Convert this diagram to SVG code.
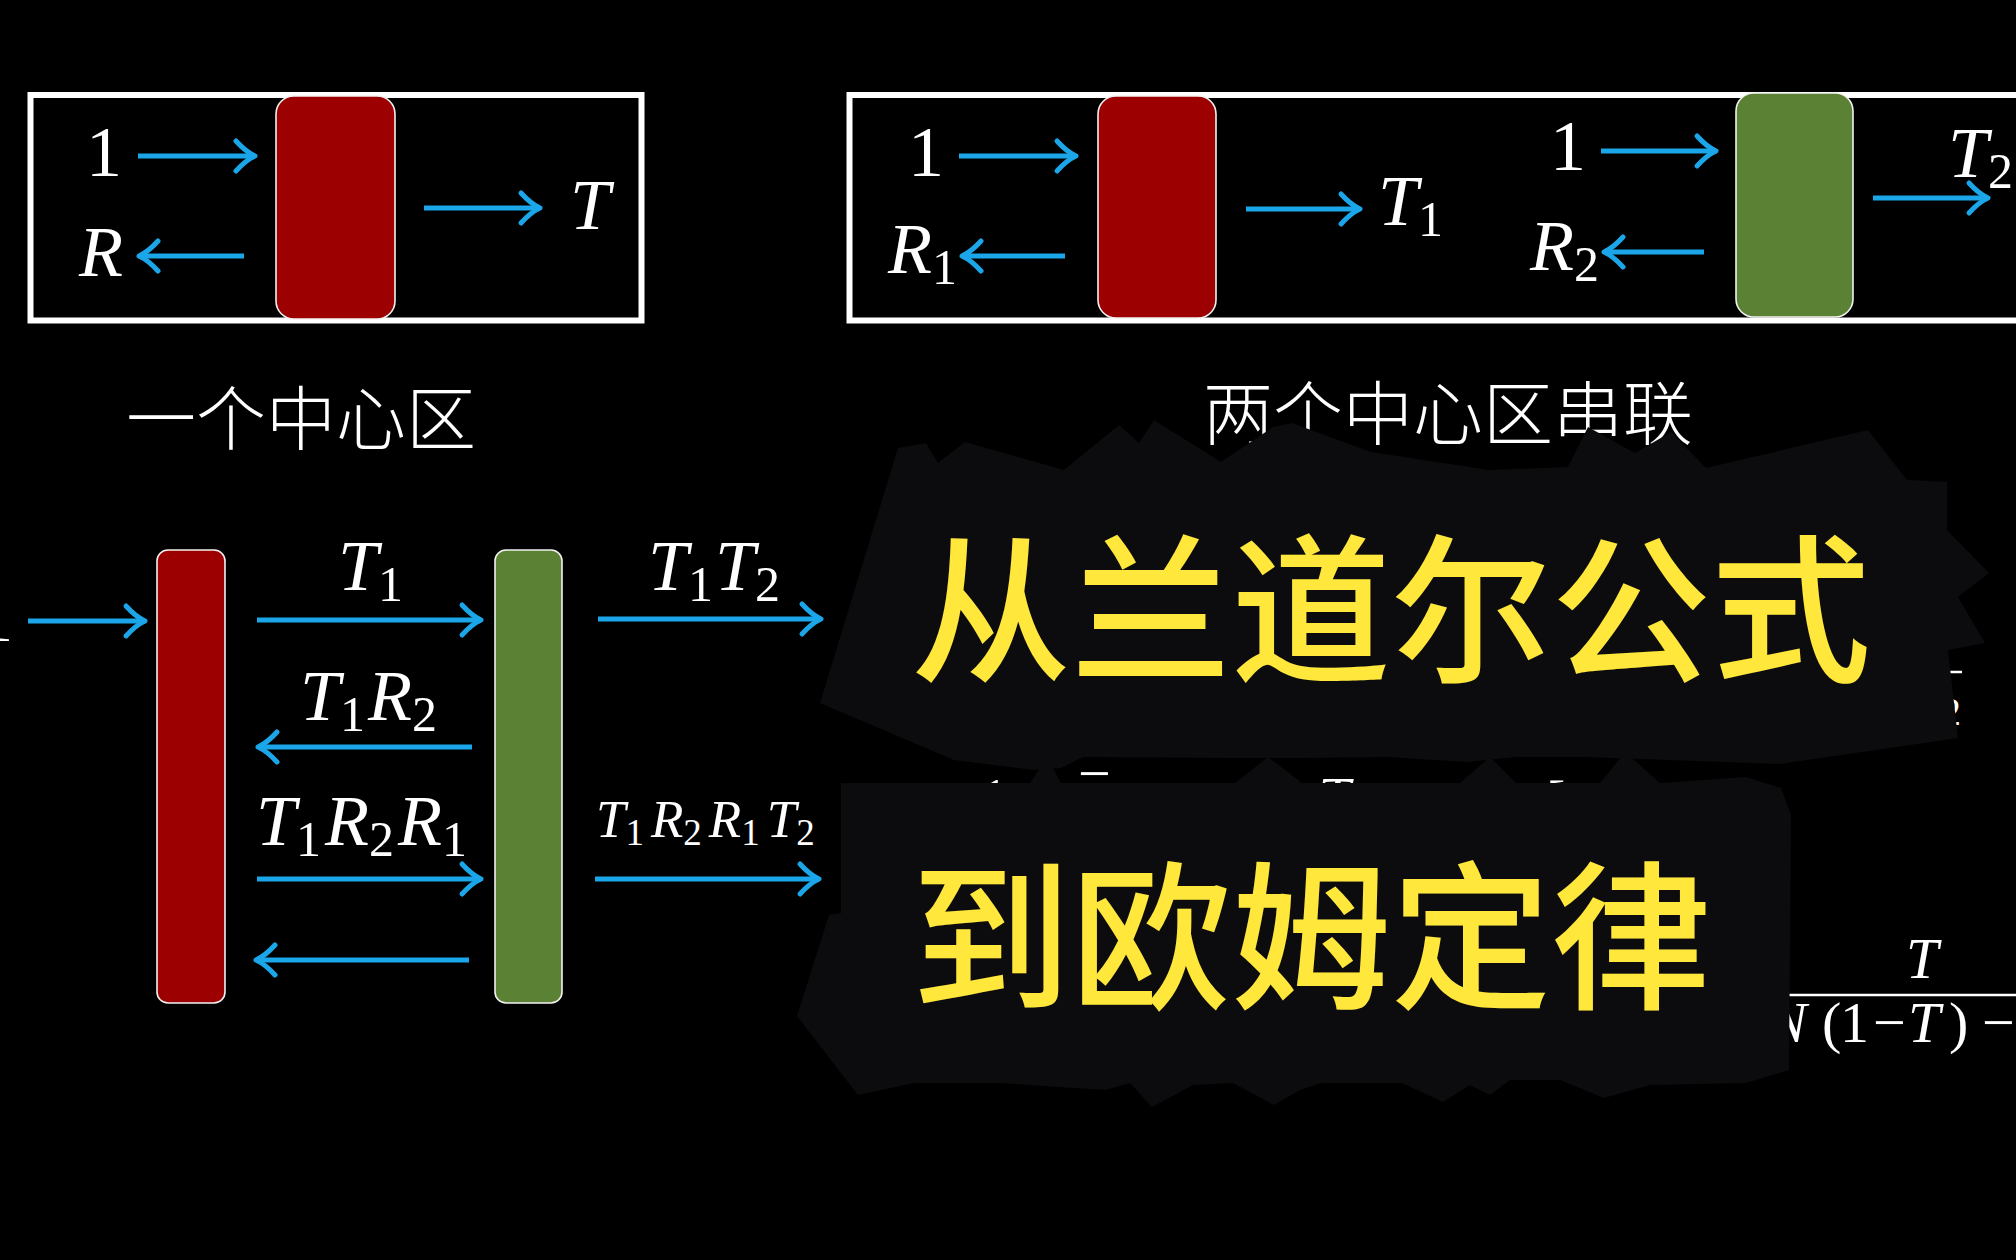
<svg xmlns="http://www.w3.org/2000/svg" width="2016" height="1260" viewBox="0 0 2016 1260">
<defs>
<style>
.m{font-family:"Liberation Serif","Times New Roman","DejaVu Serif",serif;fill:#fff;font-size:72px}
.i{font-style:italic}
.cap{font-family:"Noto Sans CJK SC",sans-serif;fill:#fff;font-size:70px;font-weight:300}
.ttl{font-family:"Noto Sans CJK SC",sans-serif;fill:#ffe83b;font-size:160px;font-weight:500}
.box{fill:none;stroke:#fff;stroke-width:6}
.red{fill:#9c0000;stroke:#f2f2f2;stroke-width:1.6}
.grn{fill:#5b8234;stroke:#f2f2f2;stroke-width:1.6}
.ar{stroke:#1aa6e8;stroke-width:5;fill:none;marker-end:url(#ah)}
.patch{fill:#0c0c0e}
</style>
<marker id="ah" markerUnits="userSpaceOnUse" markerWidth="40" markerHeight="40" viewBox="-30 -20 40 40" refX="0" refY="0" orient="auto">
<path d="M-19,-15 Q-9,-4 0,0 Q-9,4 -19,15" fill="none" stroke="#1aa6e8" stroke-width="5" stroke-linecap="round" stroke-linejoin="round"/>
</marker>
</defs>
<rect x="0" y="0" width="2016" height="1260" fill="#000"/>

<!-- Panel 1: one central region -->
<g id="panel1">
<rect class="box" x="30.5" y="95" width="611" height="225.5"/>
<rect id="p1-red" class="red" x="276" y="96" width="119" height="223" rx="18"/>
<text class="m" x="104" y="176" text-anchor="middle">1</text>
<text class="m i" x="101" y="276" text-anchor="middle">R</text>
<text class="m i" x="590" y="229" text-anchor="middle">T</text>
<text class="cap" x="126" y="445">一个中心区</text>
</g>

<!-- Panel 2: two central regions in series -->
<g id="panel2">
<rect class="box" x="849.5" y="95" width="1300" height="225.5"/>
<rect id="p2-red" class="red" x="1098" y="96" width="118" height="222" rx="18"/>
<rect id="p2-green" class="grn" x="1736" y="93" width="117" height="224" rx="18"/>
<text class="m" x="926" y="176" text-anchor="middle">1</text>
<text class="m" x="888" y="273"><tspan class="i">R</tspan><tspan dy="11" font-size="50">1</tspan></text>
<text class="m" x="1378" y="225"><tspan class="i">T</tspan><tspan dy="11" font-size="50">1</tspan></text>
<text class="m" x="1568" y="170" text-anchor="middle">1</text>
<text class="m" x="1530" y="270"><tspan class="i">R</tspan><tspan dy="11" font-size="50">2</tspan></text>
<text class="m" x="1948" y="177"><tspan class="i">T</tspan><tspan dy="11" font-size="50">2</tspan></text>
<text class="cap" x="1203" y="440">两个中心区串联</text>
</g>

<!-- Panel 3: multiple reflections -->
<g id="panel3">
<rect id="p3-red" class="red" x="157" y="550" width="68" height="453" rx="11"/>
<rect id="p3-green" class="grn" x="495" y="550" width="67" height="453" rx="11"/>
<text class="m" x="-21" y="641" style="font-size:68px">1</text>
<text class="m" x="338" y="590"><tspan class="i">T</tspan><tspan dy="11" font-size="50">1</tspan></text>
<text class="m" x="648" y="590"><tspan class="i">T</tspan><tspan dy="11" font-size="50">1</tspan><tspan class="i" dy="-11" dx="2">T</tspan><tspan dy="11" font-size="50">2</tspan></text>
<text class="m" x="300" y="720"><tspan class="i">T</tspan><tspan dy="11" font-size="50">1</tspan><tspan class="i" dy="-11" dx="3">R</tspan><tspan dy="11" font-size="50">2</tspan></text>
<text class="m" x="256" y="845"><tspan class="i">T</tspan><tspan dy="11" font-size="50">1</tspan><tspan class="i" dy="-11" dx="4">R</tspan><tspan dy="11" font-size="50">2</tspan><tspan class="i" dy="-11" dx="4">R</tspan><tspan dy="11" font-size="50">1</tspan></text>
<text class="m" x="596" y="837" style="font-size:53px"><tspan class="i">T</tspan><tspan dy="8" font-size="37">1</tspan><tspan class="i" dy="-8" dx="7">R</tspan><tspan dy="8" font-size="37">2</tspan><tspan class="i" dy="-8" dx="7">R</tspan><tspan dy="8" font-size="37">1</tspan><tspan class="i" dy="-8" dx="7">T</tspan><tspan dy="8" font-size="37">2</tspan></text>
</g>

<!-- Connectors -->
<g id="connectors">
<line class="ar" x1="138" y1="156" x2="255" y2="156"/>
<line class="ar" x1="244" y1="256" x2="139" y2="256"/>
<line class="ar" x1="424" y1="208" x2="540" y2="208"/>
<line class="ar" x1="959" y1="156" x2="1076" y2="156"/>
<line class="ar" x1="1065" y1="256" x2="962" y2="256"/>
<line class="ar" x1="1246" y1="209" x2="1360" y2="209"/>
<line class="ar" x1="1601" y1="151" x2="1716" y2="151"/>
<line class="ar" x1="1704" y1="252" x2="1604" y2="252"/>
<line class="ar" x1="1873" y1="198" x2="1988" y2="198"/>
<line class="ar" x1="28" y1="621" x2="145" y2="621"/>
<line class="ar" x1="257" y1="620" x2="481" y2="620"/>
<line class="ar" x1="598" y1="619" x2="821" y2="619"/>
<line class="ar" x1="472" y1="747" x2="258" y2="747"/>
<line class="ar" x1="257" y1="879" x2="481" y2="879"/>
<line class="ar" x1="595" y1="879" x2="819" y2="879"/>
<line class="ar" x1="469" y1="960" x2="256" y2="960"/>
</g>

<!-- Partly hidden formulas -->
<g id="formulas">
<text class="m" x="980" y="818" style="font-size:58px">1</text>
<text class="m" x="1078" y="793" style="font-size:58px">−</text>
<text class="m" x="1226" y="818" style="font-size:58px">1</text>
<text class="m i" x="1318" y="817" style="font-size:58px">T</text>
<text class="m" x="1546" y="820" style="font-size:58px">[</text>
<line x1="1900" y1="672" x2="1962" y2="672" stroke="#fff" stroke-width="2.5"/>
<text class="m" x="1941" y="725" style="font-size:40px">2</text>
<text class="m i" x="1906" y="978" style="font-size:58px">T</text>
<line x1="1787" y1="995" x2="2016" y2="995" stroke="#fff" stroke-width="2.5"/>
<text class="m" y="1042" style="font-size:58px"><tspan class="i" x="1768">N</tspan><tspan x="1822">(</tspan><tspan x="1840">1</tspan><tspan x="1873">−</tspan><tspan class="i" x="1908">T</tspan><tspan x="1949">)</tspan><tspan x="1982">−</tspan></text>
</g>

<!-- Title patches -->
<g id="title">
<polygon class="patch" points="898,448 926,443 938,463 965,442 1064,470 1119,425 1139,443 1154,420 1221,462 1273,427 1292,423 1371,452 1489,470 1568,467 1588,427 1635,453 1671,432 1706,468 1868,430 1907,480 1947,482 1947,530 1989,573 1958,597 1985,643 1948,650 1958,738 1780,764 1585,757 1516,757 1467,762 1387,757 1302,758 1235,758 1083,757 1061,768 1034,770 954,760 947,757 820,703"/>
<polygon class="patch" points="841,783 1030,783 1047,757 1061,783 1235,783 1268,757 1302,783 1460,783 1490,757 1516,783 1600,783 1625,752 1660,783 1746,777 1781,788 1791,815 1789,1070 1746,1083 1650,1085 1604,1098 1560,1080 1510,1080 1490,1095 1470,1085 1443,1102 1402,1083 1321,1083 1300,1090 1274,1105 1233,1083 1193,1085 1152,1107 1130,1083 1105,1090 1000,1083 914,1083 858,1095 797,1016 829,915 841,913"/>
<text class="ttl" x="911" y="670">从兰道尔公式</text>
<text class="ttl" x="911" y="997">到欧姆定律</text>
</g>
</svg>
